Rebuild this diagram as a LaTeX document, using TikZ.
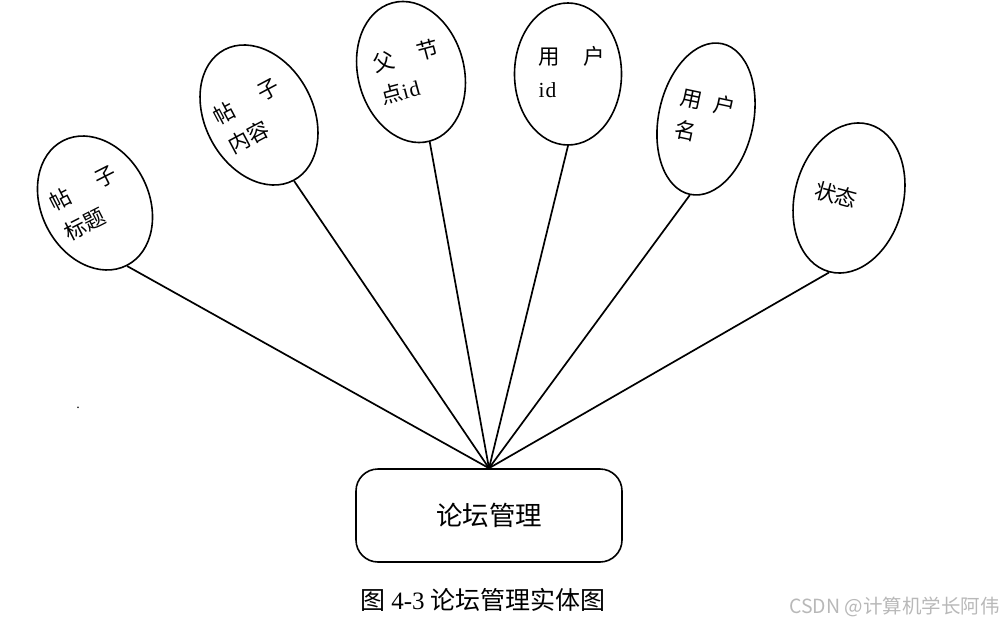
\documentclass[tikz,border=0pt]{standalone}
\usepackage{fontspec}
\setmainfont{Liberation Serif}
\newfontfamily\cjk{Noto Sans CJK SC}
\usetikzlibrary{shapes.geometric}
\begin{document}
\begin{tikzpicture}[x=1pt,y=1pt,
  attr/.style={ellipse,draw,line width=1.6pt,inner sep=0pt},
  attrtext/.style={inner sep=0pt,align=left,font=\cjk\fontsize{21.5}{33}\selectfont},
  link/.style={line width=1.7pt},
  entity/.style={draw,line width=1.6pt,rounded corners=22pt,minimum width=266pt,minimum height=93pt,inner sep=0pt,font=\cjk\fontsize{26.5}{26.5}\selectfont}]
\useasboundingbox (0,0) rectangle (1004,-626);
% attribute ellipses
\node[attr,minimum width=107.6pt,minimum height=140pt,rotate=27] (e1) at (95,-203) {};
\node[attr,minimum width=108pt,minimum height=147.8pt,rotate=28] (e2) at (259,-115) {};
\node[attr,minimum width=106pt,minimum height=143.2pt,rotate=15] (e3) at (411,-72) {};
\node[attr,minimum width=107pt,minimum height=142pt] (e4) at (568,-74) {};
\node[attr,minimum width=94.8pt,minimum height=154pt,rotate=-12] (e5) at (706,-119) {};
\node[attr,minimum width=108.4pt,minimum height=152.6pt,rotate=-15] (e6) at (849,-198) {};
% texts
\node[attrtext,rotate=27] (t1) at (90,-203) {帖\hspace{1.35em}子\\标题};
\node[attrtext,rotate=28] (t2) at (254,-116) {帖\hspace{1.35em}子\\内容};
\node[attrtext,rotate=15] (t3) at (410,-72) {父\hspace{1.15em}节\\点{\rmfamily i\kern1pt d}};
\node[attrtext] (t4) at (572,-72) {用\hspace{1.1em}户\\{\rmfamily i\kern1pt d}};
\node[attrtext,rotate=-12] (t5) at (705,-118) {用\hspace{0.55em}户\\名};
\node[attrtext,rotate=-15] (t6) at (836,-195) {状态};
% entity
\node[entity] (box) at (489,-515.5) {论坛管理};
% connectors
\foreach \e in {e1,e2,e3,e4,e5,e6} \draw[link] (\e.south) -- (box.north);
% stray dot
\node[inner sep=0pt,font=\fontsize{14}{14}\selectfont] (dot) at (78,-408) {.};
% caption
\node[inner sep=0pt,font=\fontsize{25}{25}\selectfont] (cap) at (483,-600) {{\cjk 图} 4-3 {\cjk 论坛管理实体图}};
% watermark
\node[inner sep=0pt,anchor=east,text=black!28,font=\cjk\fontsize{19.5}{19.5}\selectfont] (wm) at (1000,-607) {CSDN @计算机学长阿伟};
\end{tikzpicture}
\end{document}
